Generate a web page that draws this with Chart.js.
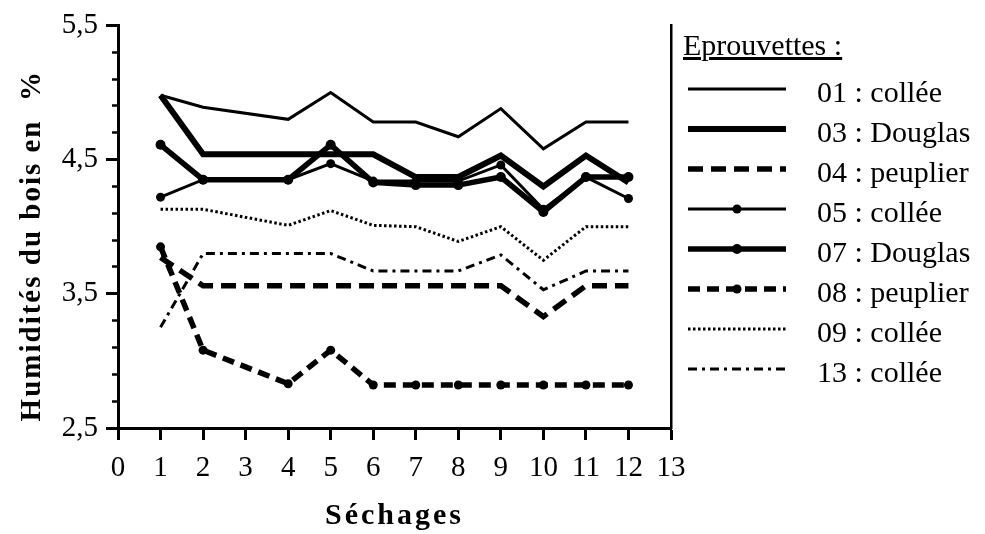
<!DOCTYPE html>
<html>
<head>
<meta charset="utf-8">
<script src="https://cdn.jsdelivr.net/npm/chart.js@4"></script>
<style>
  body { margin: 0; background: #fff; }
  #wrap { position: relative; width: 985px; height: 534px; }
  #legend {
    position: absolute; left: 683px; top: 25px;
    font-family: "Liberation Serif", serif; font-size: 30px; color: #000;
  }
  #legend .title { line-height: 40px; height: 47px; text-decoration: underline; }
  #legend .row { display: flex; align-items: flex-start; height: 40px; }
  #legend .row svg { margin-left: 5px; }
  #legend .row span { margin-left: 31px; line-height: 40px; }
</style>
</head>
<body>
<div id="wrap">
  <canvas id="myChart" width="985" height="534"></canvas>
  <div id="legend"></div>
</div>
<script>
// Séchages (x values) - no measure at 3
const sechages = [1, 2, 4, 5, 6, 7, 8, 9, 10, 11, 12];

// Humidity per sample (%)
const s01 = [4.98, 4.89, 4.80, 5.00, 4.78, 4.78, 4.67, 4.88, 4.58, 4.78, 4.78];
const s03 = [4.98, 4.54, 4.54, 4.54, 4.54, 4.37, 4.37, 4.53, 4.30, 4.53, 4.33];
const s04 = [3.77, 3.56, 3.56, 3.56, 3.56, 3.56, 3.56, 3.56, 3.33, 3.56, 3.56];
const s05 = [4.22, 4.35, 4.35, 4.47, 4.34, 4.34, 4.34, 4.46, 4.13, 4.37, 4.21];
const s07 = [4.61, 4.35, 4.35, 4.61, 4.33, 4.31, 4.31, 4.37, 4.11, 4.37, 4.37];
const s08 = [3.85, 3.08, 2.83, 3.08, 2.82, 2.82, 2.82, 2.82, 2.82, 2.82, 2.82];
const s09 = [4.13, 4.13, 4.01, 4.12, 4.01, 4.00, 3.89, 4.00, 3.75, 4.00, 4.00];
const s13 = [3.25, 3.80, 3.80, 3.80, 3.67, 3.67, 3.67, 3.79, 3.53, 3.67, 3.67];

const seriesLabels = ["01 : collée", "03 : Douglas", "04 : peuplier", "05 : collée",
  "07 : Douglas", "08 : peuplier", "09 : collée", "13 : collée"];

// Axis ticks
const yMajorTicks = [2.5, 3.5, 4.5, 5.5];
const yMajorLabels = ["2,5", "3,5", "4,5", "5,5"];
const yMinorTicks = [2.5, 2.7, 2.9, 3.1, 3.3, 3.5, 3.7, 3.9, 4.1, 4.3, 4.5, 4.7, 4.9, 5.1, 5.3, 5.5];

const serif = "'Liberation Serif', 'Times New Roman', serif";

function toPoints(values) {
  return values.map((v, i) => ({ x: sechages[i], y: v }));
}

function makeSet(label, values, width, dash, radius) {
  return {
    label: label,
    data: toPoints(values),
    borderColor: "#000",
    backgroundColor: "#000",
    borderWidth: width,
    borderDash: dash,
    borderCapStyle: "butt",
    borderJoinStyle: "miter",
    pointRadius: radius,
    pointHoverRadius: radius,
    pointBorderWidth: 0,
    tension: 0,
  };
}

const datasets = [
  makeSet(seriesLabels[0], s01, 3, [], 0),
  makeSet(seriesLabels[1], s03, 6, [], 0),
  makeSet(seriesLabels[2], s04, 5.5, [15, 8], 0),
  makeSet(seriesLabels[3], s05, 3, [], 4.5),
  makeSet(seriesLabels[4], s07, 5.5, [], 5),
  makeSet(seriesLabels[5], s08, 5.5, [12, 7], 4.5),
  makeSet(seriesLabels[6], s09, 3, [2.5, 2.5], 0),
  makeSet(seriesLabels[7], s13, 3, [9, 5, 3, 5], 0),
];

// letter spaced axis titles
function spacedTitle(scale, spacing, shiftY) {
  if (scale._spaced) return;
  const orig = scale.drawTitle;
  scale.drawTitle = function () {
    const c = this.ctx;
    c.save();
    c.letterSpacing = spacing;
    c.translate(0, shiftY);
    orig.apply(this, arguments);
    c.restore();
  };
  scale._spaced = true;
}

const titlePlugin = {
  id: "spacedTitles",
  afterLayout(chart) {
    spacedTitle(chart.scales.x, "3px", 0);
    spacedTitle(chart.scales.y, "2px", 19);
  },
};

const ctx = document.getElementById("myChart");

const config = {
  type: "line",
  data: { datasets: datasets },
  options: {
    responsive: false,
    animation: false,
    devicePixelRatio: 1,
    layout: { padding: { top: 18, right: 314, left: 0, bottom: 0 } },
    plugins: {
      legend: { display: false },
      tooltip: { enabled: false },
    },
    scales: {
      x: {
        type: "linear",
        min: 0,
        max: 13,
        ticks: {
          stepSize: 1,
          color: "#000",
          padding: 11,
          maxRotation: 0,
          font: { family: serif, size: 29 },
        },
        grid: { drawOnChartArea: false, tickLength: 12, tickWidth: 3, color: "#000" },
        border: { display: true, color: "#000", width: 3 },
        title: {
          display: true,
          text: "Séchages",
          color: "#000",
          padding: 0,
          font: { family: serif, size: 30, weight: "bold" },
        },
        afterFit(scale) { scale.height = 106; },
      },
      y: {
        type: "linear",
        min: 2.5,
        max: 5.5,
        weight: 1,
        afterBuildTicks(scale) {
          scale.ticks = yMajorTicks.map((v) => ({ value: v }));
        },
        ticks: {
          color: "#000",
          padding: 8,
          font: { family: serif, size: 29 },
          callback: (v) => {
            const i = yMajorTicks.findIndex((t) => Math.abs(t - v) < 1e-6);
            return i >= 0 ? yMajorLabels[i] : "";
          },
        },
        grid: { drawOnChartArea: false, tickLength: 12, tickWidth: 3, color: "#000" },
        border: { display: true, color: "#000", width: 3 },
        title: {
          display: true,
          text: "Humidités du bois en  %",
          color: "#000",
          padding: { top: 15, bottom: 0 },
          font: { family: serif, size: 29, weight: "bold" },
        },
        afterFit(scale) { scale.width = 118; },
      },
      yMinor: {
        type: "linear",
        position: "left",
        min: 2.5,
        max: 5.5,
        weight: 0,
        afterBuildTicks(scale) {
          scale.ticks = yMinorTicks.map((v) => ({ value: v }));
        },
        ticks: { display: false },
        grid: { drawOnChartArea: false, tickLength: 6, tickWidth: 2.5, color: "#000" },
        border: { display: false },
        afterFit(scale) { scale.width = 0; },
      },
      yRight: {
        type: "linear",
        position: "right",
        min: 2.5,
        max: 5.5,
        ticks: { display: false },
        grid: { display: false, drawTicks: false },
        border: { display: true, color: "#000", width: 2.5 },
        afterFit(scale) { scale.width = 0; },
      },
    },
  },
  plugins: [titlePlugin],
};

const myChart = new Chart(ctx, config);

// HTML legend built from the datasets' own styles
function buildLegend() {
  const box = document.getElementById("legend");
  const head = document.createElement("div");
  head.className = "title";
  head.textContent = "Eprouvettes :";
  box.appendChild(head);

  myChart.data.datasets.forEach((ds) => {
    const row = document.createElement("div");
    row.className = "row";
    const ns = "http://www.w3.org/2000/svg";
    const svg = document.createElementNS(ns, "svg");
    svg.setAttribute("width", "98");
    svg.setAttribute("height", "40");
    const line = document.createElementNS(ns, "line");
    line.setAttribute("x1", "0");
    line.setAttribute("x2", "98");
    line.setAttribute("y1", "17");
    line.setAttribute("y2", "17");
    line.setAttribute("stroke", "#000");
    line.setAttribute("stroke-width", ds.borderWidth);
    if (ds.borderDash.length) line.setAttribute("stroke-dasharray", ds.borderDash.join(" "));
    svg.appendChild(line);
    if (ds.pointRadius > 0) {
      const dot = document.createElementNS(ns, "circle");
      dot.setAttribute("cx", "49");
      dot.setAttribute("cy", "17");
      dot.setAttribute("r", ds.pointRadius);
      dot.setAttribute("fill", "#000");
      svg.appendChild(dot);
    }
    const txt = document.createElement("span");
    txt.textContent = ds.label;
    row.appendChild(svg);
    row.appendChild(txt);
    box.appendChild(row);
  });
}

buildLegend();
</script>
</body>
</html>
